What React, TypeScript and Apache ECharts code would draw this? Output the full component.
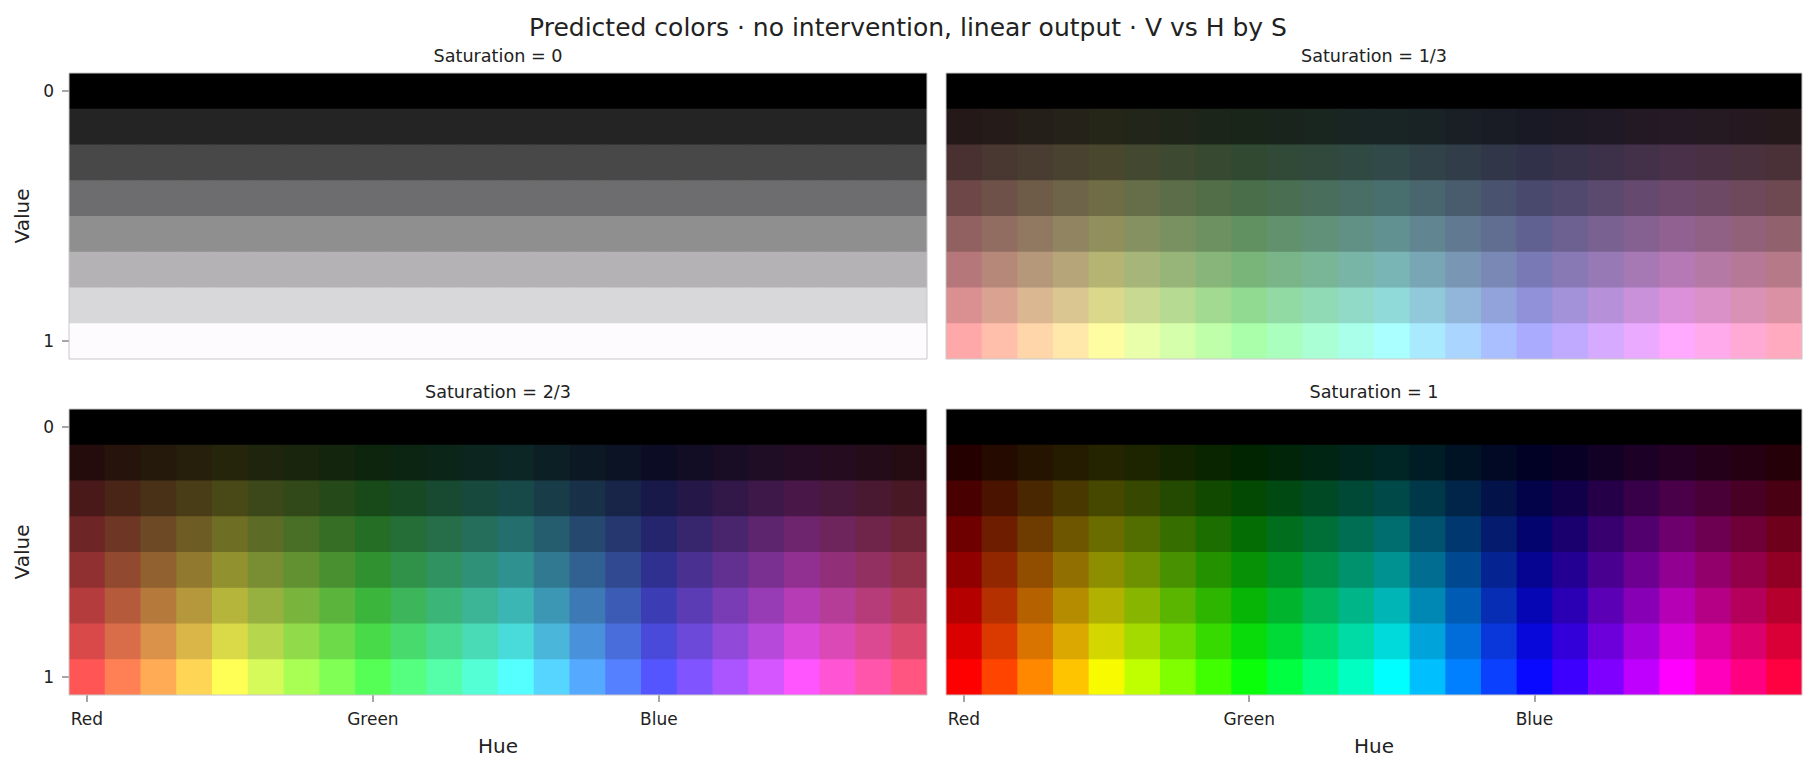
import { useEffect, useRef } from "react";
import * as echarts from "echarts";

// hue columns (degrees), 24 steps
const hues = [
  "0", "15", "30", "45", "60", "75", "90", "105", "120", "135", "150", "165",
  "180", "195", "210", "225", "240", "255", "270", "285", "300", "315", "330", "345",
];
const hueTickLabels: Record<number, string> = { 0: "Red", 8: "Green", 16: "Blue" };

// value rows, top (0) to bottom (1)
const valueLevels = ["0", "1/7", "2/7", "3/7", "4/7", "5/7", "6/7", "1"];
const valueTickLabels: Record<number, string> = { 0: "0", 7: "1" };

const grayRamp = [0, 37, 73, 110, 145, 181, 218, 255];

const saturations = ["0", "1/3", "2/3", "1"];

// predicted colour of each hue at Value = 1 (bottom row), per saturation
const fullRowS0 = [
  "#fdfbfe", "#fdfbfe", "#fdfbfe", "#fdfbfe", "#fdfbfe", "#fdfbfe",
  "#fdfbfe", "#fdfbfe", "#fdfbfe", "#fdfbfe", "#fdfbfe", "#fdfbfe",
  "#fdfbfe", "#fdfbfe", "#fdfbfe", "#fdfbfe", "#fdfbfe", "#fdfbfe",
  "#fdfbfe", "#fdfbfe", "#fdfbfe", "#fdfbfe", "#fdfbfe", "#fdfbfe",
];
const fullRowS13 = [
  "#ffa8aa", "#ffbfaa", "#ffd5aa", "#ffe8aa", "#fffda2", "#eaffaa",
  "#d5ffaa", "#bfffaa", "#aaffaa", "#aaffbf", "#aaffd5", "#aaffea",
  "#aaffff", "#aaeaff", "#aad5ff", "#aabfff", "#aaaaff", "#bfaaff",
  "#d5aaff", "#eaaaff", "#ffaaff", "#ffaaea", "#ffaad5", "#ffaabf",
];
const fullRowS23 = [
  "#ff5555", "#ff8055", "#ffaa55", "#ffd555", "#ffff55", "#d5fa5a",
  "#aaff55", "#80ff55", "#55ff55", "#55ff80", "#55ffaa", "#55ffd5",
  "#55ffff", "#55d5ff", "#55aaff", "#5580ff", "#5555ff", "#8055ff",
  "#aa55ff", "#d555ff", "#ff55ff", "#ff55d5", "#ff55aa", "#ff5580",
];
const fullRowS1 = [
  "#ff0000", "#ff4400", "#ff8800", "#ffc400", "#f8fa00", "#c0ff00",
  "#7fff00", "#40ff00", "#0aff0a", "#00ff40", "#00ff80", "#00ffc0",
  "#00ffff", "#00bfff", "#0080ff", "#0b40ff", "#0909ff", "#3d00ff",
  "#8000ff", "#bf00ff", "#ff00ff", "#ff00bc", "#ff0080", "#ff0040",
];
const fullRows = [fullRowS0, fullRowS13, fullRowS23, fullRowS1];

const FONT = "DejaVu Sans";
const TEXT = "#222222";

function shade(hex: string, level: number) {
  const k = level / 255;
  const r = Math.round(parseInt(hex.slice(1, 3), 16) * k);
  const g = Math.round(parseInt(hex.slice(3, 5), 16) * k);
  const b = Math.round(parseInt(hex.slice(5, 7), 16) * k);
  return `rgb(${r},${g},${b})`;
}

// panel boxes in px: [left, top, width, height]
const panels = [
  [69, 73, 858, 286],
  [946, 73, 856, 286],
  [69, 409, 858, 286],
  [946, 409, 856, 286],
];

export default function App() {
  const chartRef = useRef<HTMLDivElement>(null);

  useEffect(() => {
    if (!chartRef.current) return;
    const chart = echarts.init(chartRef.current, undefined, { renderer: "svg" });

    const grids = panels.map(([left, top, width, height]) => ({
      left,
      top,
      width,
      height,
      show: true,
      z: 10,
      backgroundColor: "transparent",
      borderColor: "#c8c8c8",
      borderWidth: 1,
    }));

    const xAxes = panels.map((_, i) => {
      const bottom = i >= 2;
      return {
        type: "category",
        gridIndex: i,
        data: hues,
        position: "bottom",
        axisLine: { show: false },
        splitLine: { show: false },
        axisTick: {
          show: bottom,
          alignWithLabel: true,
          interval: (idx: number) => idx in hueTickLabels,
          length: 7,
          lineStyle: { color: "#888888", width: 1.5 },
        },
        axisLabel: {
          show: bottom,
          interval: (idx: number) => idx in hueTickLabels,
          formatter: (_v: string, idx: number) => hueTickLabels[idx] ?? "",
          fontSize: 17,
          fontFamily: FONT,
          color: TEXT,
          margin: 15,
        },
        name: bottom ? "Hue" : "",
        nameLocation: "middle",
        nameGap: 41,
        nameTextStyle: { fontSize: 20, fontFamily: FONT, color: TEXT },
      };
    });

    const yAxes = panels.map((_, i) => {
      const left = i % 2 === 0;
      return {
        type: "category",
        gridIndex: i,
        data: valueLevels,
        inverse: true,
        axisLine: { show: false },
        splitLine: { show: false },
        axisTick: {
          show: left,
          alignWithLabel: true,
          interval: (idx: number) => idx in valueTickLabels,
          length: 7,
          lineStyle: { color: "#888888", width: 1.5 },
        },
        axisLabel: {
          show: left,
          interval: (idx: number) => idx in valueTickLabels,
          formatter: (_v: string, idx: number) => valueTickLabels[idx] ?? "",
          fontSize: 17,
          fontFamily: FONT,
          color: TEXT,
          margin: 15,
        },
        name: left ? "Value" : "",
        nameLocation: "middle",
        nameRotate: 90,
        nameGap: 37,
        nameTextStyle: { fontSize: 20, fontFamily: FONT, color: TEXT },
      };
    });

    const series = fullRows.map((row, p) => {
      const data: number[][] = [];
      const colors: string[] = [];
      grayRamp.forEach((level, v) => {
        row.forEach((hex, h) => {
          data.push([h, v]);
          colors.push(shade(hex, level));
        });
      });
      return {
        type: "custom",
        xAxisIndex: p,
        yAxisIndex: p,
        data,
        encode: { x: 0, y: 1 },
        silent: true,
        renderItem: (params: any, api: any) => {
          const c = api.coord([api.value(0), api.value(1)]);
          const s = api.size([1, 1]);
          const last = api.value(0) === hues.length - 1;
          const bottomRow = api.value(1) === valueLevels.length - 1;
          return {
            type: "rect",
            shape: {
              x: c[0] - s[0] / 2,
              y: c[1] - s[1] / 2,
              width: s[0] + (last ? 0 : 1),
              height: s[1] + (bottomRow ? 0 : 1),
            },
            style: { fill: colors[params.dataIndex], stroke: "none" },
          };
        },
      };
    });

    const titles = [
      { text: "Predicted colors · no intervention, linear output · V vs H by S", x: 908, y: 27, size: 25 },
      ...saturations.map((s, i) => ({
        text: `Saturation = ${s}`,
        x: panels[i][0] + panels[i][2] / 2,
        y: panels[i][1] - 17,
        size: 17.6,
      })),
    ];

    chart.setOption({
      animation: false,
      backgroundColor: "#ffffff",
      textStyle: { fontFamily: FONT },
      grid: grids,
      xAxis: xAxes,
      yAxis: yAxes,
      series,
      graphic: titles.map((t) => ({
        type: "text",
        x: t.x,
        y: t.y,
        style: {
          text: t.text,
          fontSize: t.size,
          fontFamily: FONT,
          fill: TEXT,
          align: "center",
          verticalAlign: "middle",
        },
      })),
    });

    return () => {
      chart.dispose();
    };
  }, []);

  return (
    <div
      ref={chartRef}
      style={{ position: "absolute", left: 0, top: 0, width: 1817, height: 771 }}
    />
  );
}
